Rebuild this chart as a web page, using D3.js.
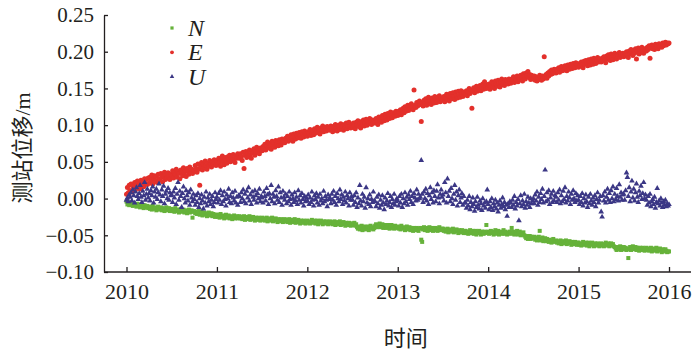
<!DOCTYPE html>
<html>
<head>
<meta charset="utf-8">
<title>测站位移</title>
<script src="https://cdnjs.cloudflare.com/ajax/libs/d3/7.8.5/d3.min.js"></script>
<style>
    body { margin: 0; background: #fff; }
    .axis path, .axis line { stroke: #231f20; stroke-width: 1.3; }
</style>
</head>
<body>
<svg class="chart"></svg>
<script>
// sampling runs from the start to the end year, evenly spaced
var startYear = 2010, endYear = 2016;
var yearTicks = [2010, 2011, 2012, 2013, 2014, 2015, 2016];
var dispTicks = [-0.10, -0.05, 0.00, 0.05, 0.10, 0.15, 0.20, 0.25];
var seriesNames = ["N", "E", "U"];

// displacements in mm, one row per quarter year
var nValues = [
    -4,-8,-6,-9,-5,-8,-7,-10,-6,-9,-8,-11,-7,-10,-9,-12,-8,-11,-10,-13,-9,-12,-11,-10,-13,
    -11,-14,-12,-15,-10,-13,-14,-12,-16,-13,-11,-15,-14,-12,-16,-13,-15,-17,-14,-12,-16,-15,-13,-17,-15,
    -14,-17,-15,-18,-13,-16,-17,-15,-19,-16,-14,-18,-17,-15,-19,-16,-18,-20,-17,-15,-19,-18,-16,-26,-18,
    -17,-20,-18,-21,-19,-17,-22,-20,-18,-23,-21,-19,-22,-20,-24,-21,-19,-23,-22,-20,-24,-21,-23,-25,-22,
    -22,-25,-23,-26,-21,-24,-25,-23,-27,-24,-22,-26,-25,-23,-27,-24,-26,-28,-25,-23,-27,-26,-24,-27,-25,
    -24,-27,-25,-28,-26,-24,-29,-26,-25,-28,-27,-24,-29,-26,-28,-25,-27,-30,-26,-28,-29,-26,-28,-30,-27,
    -26,-29,-27,-30,-28,-26,-31,-28,-27,-30,-29,-26,-31,-28,-30,-27,-29,-32,-28,-30,-31,-28,-30,-32,-29,
    -28,-31,-29,-32,-30,-28,-33,-30,-29,-32,-31,-28,-33,-30,-32,-29,-31,-34,-30,-32,-33,-30,-32,-34,-31,
    -30,-33,-31,-34,-32,-29,-33,-31,-30,-34,-32,-30,-35,-31,-33,-30,-32,-35,-31,-33,-34,-31,-33,-35,-32,
    -31,-34,-32,-35,-33,-31,-36,-33,-32,-35,-34,-31,-36,-33,-35,-32,-34,-37,-33,-35,-36,-33,-35,-37,-34,
    -34,-36,-33,-37,-35,-39,-41,-38,-42,-40,-37,-43,-40,-38,-42,-39,-41,-38,-43,-40,-37,-41,-39,-42,-40,
    -37,-35,-39,-36,-38,-34,-39,-37,-35,-40,-38,-36,-40,-37,-39,-36,-41,-38,-36,-40,-38,-41,-37,-39,-40,
    -38,-41,-39,-42,-37,-40,-41,-39,-43,-40,-38,-42,-41,-39,-43,-40,-42,-44,-40,-42,-43,-40,-42,-44,-41,
    -40,-56,-59,-42,-39,-43,-41,-40,-44,-41,-39,-43,-42,-40,-44,-41,-43,-40,-42,-44,-41,-39,-43,-42,-41,
    -41,-44,-42,-45,-43,-41,-46,-43,-42,-45,-44,-41,-46,-43,-45,-42,-44,-47,-43,-45,-46,-43,-45,-47,-44,
    -44,-47,-45,-48,-46,-43,-47,-45,-44,-48,-46,-44,-49,-45,-47,-44,-46,-49,-45,-47,-48,-45,-47,-36,-46,
    -45,-48,-46,-44,-47,-45,-49,-46,-43,-48,-46,-44,-49,-47,-45,-48,-46,-43,-48,-45,-47,-49,-46,-48,-45,
    -46,-40,-48,-45,-49,-46,-48,-44,-49,-47,-45,-50,-47,-49,-46,-50,-52,-54,-51,-55,-53,-51,-55,-52,-54,
    -54,-52,-56,-53,-57,-54,-52,-44,-57,-55,-53,-58,-56,-54,-58,-55,-57,-59,-56,-58,-60,-57,-55,-59,-58,
    -57,-60,-58,-61,-59,-57,-62,-59,-58,-61,-60,-57,-62,-59,-61,-58,-60,-63,-59,-61,-62,-59,-61,-63,-60,
    -60,-63,-61,-64,-62,-59,-63,-61,-60,-64,-62,-60,-65,-61,-63,-60,-62,-65,-61,-63,-64,-61,-63,-65,-62,
    -61,-64,-62,-65,-63,-60,-64,-62,-61,-65,-63,-61,-64,-62,-65,-66,-68,-70,-66,-69,-67,-65,-70,-67,-69,
    -66,-69,-67,-70,-68,-81,-69,-66,-70,-67,-65,-69,-68,-66,-70,-67,-69,-71,-67,-69,-70,-67,-69,-71,-68,
    -67,-70,-68,-71,-69,-67,-72,-69,-68,-71,-70,-67,-72,-69,-71,-68,-70,-73,-69,-71,-72,-69,-71,-73,-72,
    -72
];

var eValues = [
    6,15,8,18,11,20,9,17,14,22,12,19,24,15,21,13,25,18,23,16,27,20,26,19,28,
    21,29,25,32,20,27,31,24,30,22,33,27,25,34,29,23,31,36,26,32,28,35,30,26,33,
    31,38,28,35,33,40,29,37,34,27,39,36,31,42,35,38,30,41,37,33,43,36,40,34,39,
    38,45,41,36,47,40,18,44,49,39,46,42,51,45,40,48,44,52,47,43,50,46,53,48,45,
    52,47,55,49,44,53,58,50,46,56,51,48,57,53,59,50,55,52,60,54,49,58,55,61,56,
    55,61,57,52,63,41,59,64,56,61,58,66,60,55,65,62,68,59,64,70,63,67,61,69,66,
    65,71,68,74,66,72,77,69,75,71,67,78,73,76,70,79,74,77,72,80,76,73,81,77,79,
    76,82,79,85,78,83,80,87,82,78,88,84,81,89,85,83,90,86,82,91,87,84,92,88,86,
    85,91,88,94,86,90,93,87,95,89,92,97,90,94,88,96,93,99,91,95,97,92,98,94,96,
    93,99,95,91,98,94,101,96,92,100,97,94,102,96,99,93,101,97,103,95,99,104,98,96,100,
    97,103,99,95,104,100,106,98,102,96,105,101,107,99,103,108,100,105,102,109,104,101,107,103,106,
    103,109,105,101,111,106,108,104,113,109,106,115,110,107,116,112,109,118,113,110,117,114,112,119,115,
    113,119,116,121,114,120,123,117,125,119,122,127,120,126,123,129,124,121,148,127,124,131,126,129,133,
    128,105,131,126,134,129,136,127,132,138,130,134,128,137,133,130,139,135,131,138,134,140,132,137,135,
    134,139,132,137,142,135,140,133,143,138,136,144,139,135,145,140,137,146,141,138,147,142,139,145,143,
    142,147,140,145,150,143,148,123,146,151,144,149,153,146,151,148,154,147,152,156,149,159,153,150,155,
    151,156,149,154,159,152,157,150,160,155,153,161,156,152,159,163,155,158,154,162,157,160,156,163,159,
    157,163,160,166,158,164,161,167,159,165,162,168,164,160,170,166,163,171,167,173,165,169,162,168,164,
    163,167,161,166,160,164,162,168,165,161,167,163,193,166,169,164,171,167,173,169,175,170,172,176,174,
    171,176,173,178,172,177,180,174,179,175,181,177,174,182,178,176,183,179,177,184,180,178,185,181,183,
    179,184,181,186,182,178,187,183,188,184,181,189,185,182,190,186,183,191,187,184,189,192,186,190,188,
    186,191,188,193,189,185,194,190,196,191,188,197,192,189,195,198,193,190,196,194,199,192,197,195,198,
    193,198,195,200,196,192,201,197,203,199,195,202,198,204,190,200,205,197,203,199,206,201,198,204,202,
    201,206,203,208,191,205,209,204,207,203,210,206,208,204,211,207,209,206,212,208,210,213,209,212,211,
    212
];

var uValues = [
    -2,1,-4,5,2,8,-3,12,4,-6,9,15,3,-1,7,18,2,-5,10,4,22,-2,6,13,1,
    7,-3,11,4,16,-6,9,2,13,-1,8,20,5,-4,12,3,17,-7,6,10,0,14,-2,8,4,
    5,-5,9,1,14,-8,6,22,-2,10,3,-12,7,16,0,-6,11,4,-3,8,-9,12,1,-4,6,
    -1,-9,4,-5,7,-12,0,-7,5,-3,-14,2,-6,9,-10,1,-4,6,-8,-2,3,-11,-5,8,-1,
    2,-6,7,-2,11,-8,4,-4,9,-1,-10,5,0,13,-5,3,-7,8,1,-3,10,-6,2,-9,4,
    3,-5,8,0,12,-4,6,-7,10,1,15,-3,5,-8,9,2,-2,11,4,-6,7,0,13,-4,3,
    1,-6,9,3,-3,14,5,-8,7,0,18,-4,6,2,-7,11,3,-2,16,-5,8,1,-9,10,2,
    -2,6,-7,3,-4,9,-1,-9,5,0,-5,8,-3,2,-8,11,-2,4,-6,7,-1,-10,3,-4,1,
    -3,5,-8,1,-5,9,-2,-10,4,-1,7,-6,2,-9,6,-3,0,-7,10,-4,3,-2,-11,5,-1,
    1,-7,6,-2,10,-5,3,-9,7,0,-4,12,-1,5,-8,2,-3,9,-6,4,0,-10,8,-2,3,
    -2,-9,4,-5,8,-12,1,-7,18,-3,-10,6,-4,2,-13,15,-6,0,-8,5,-11,-1,-5,9,-3,
    -4,-11,2,-7,5,-13,-2,-9,4,-6,-15,1,-8,-3,7,-10,-5,3,-12,-1,-7,6,-9,-4,0,
    -3,-10,3,-6,6,-12,0,-7,8,-4,2,-9,5,-1,10,-5,3,-8,7,1,-3,12,-2,6,0,
    2,52,6,-5,9,0,13,-3,7,-8,4,15,-1,8,-6,11,3,-4,10,19,1,-7,6,12,2,
    5,-3,22,8,-6,27,3,10,-4,14,0,-8,6,18,-2,9,-10,4,12,-5,1,7,-9,3,-6,
    -6,-13,-2,-10,3,-15,-5,-11,1,-8,-17,-4,-12,2,-9,-14,-3,-7,-16,0,-10,-6,-13,-4,12,
    -8,-15,-4,-12,0,-16,-7,-11,-2,-14,-6,-18,-9,-3,-13,-8,1,-11,-5,-15,-9,-24,-7,-12,-4,
    -6,-12,-2,-9,3,-14,-5,-10,-1,-30,-7,4,-11,-3,-8,6,-13,-4,-9,2,-6,-12,0,-7,-3,
    0,-7,5,-3,9,-9,2,-5,7,-1,13,-6,3,39,-4,8,-2,11,-8,1,6,-5,10,-3,4,
    2,-5,8,-2,12,-7,4,-4,10,-1,15,-6,3,-3,9,1,-8,6,-2,11,0,-5,7,-3,4,
    -2,-8,3,-5,7,-10,0,-6,5,-4,-12,2,-7,6,-3,-9,1,-5,4,-11,-1,8,-6,-2,3,
    -18,-25,4,-3,9,-6,2,13,-2,7,-5,11,0,16,-4,6,-1,14,3,-3,19,2,8,-2,5,
    6,-2,11,35,29,3,15,-4,9,24,1,13,-3,8,20,2,-5,10,4,17,-1,7,22,0,5,
    -2,-9,3,-6,6,-11,-4,-1,-8,2,-13,-5,14,-7,-3,-10,0,-6,-12,-4,-9,-2,-11,-7,-10,
    -8
];

var colors = { N: "#66b23a", E: "#e3302b", U: "#3b3785" };
var serif = "'Liberation Serif', 'Times New Roman', serif";

var svgWidth = 700, svgHeight = 358;
var margin = { top: 15, right: 7, bottom: 86, left: 104 };
var height = svgHeight - margin.top - margin.bottom;
var width = svgWidth - margin.left - margin.right;

var svg = d3.select(".chart")
    .attr("width", svgWidth)
    .attr("height", svgHeight);

var chart = svg.append("g")
    .attr("transform", "translate(" + margin.left + "," + margin.top + ")");

// the year range sits inside the axis with some room on both ends
var xScale = d3.scaleLinear().domain([startYear, endYear]).range([22.5, 565]);
var yScale = d3.scaleLinear().domain([-0.10, 0.25]).range([height, 0]);

function toPoints(values) {
    var step = (endYear - startYear) / (values.length - 1);
    return values.map(function (v, i) {
        return { t: startYear + i * step, v: v / 1000 };
    });
}

var nData = toPoints(nValues),
    eData = toPoints(eValues),
    uData = toPoints(uValues);

// N squares
chart.append("g").selectAll("rect")
    .data(nData).enter().append("rect")
    .attr("x", function (d) { return xScale(d.t) - 2; })
    .attr("y", function (d) { return yScale(d.v) - 2; })
    .attr("width", 4)
    .attr("height", 4)
    .attr("fill", colors.N);

// E dots
chart.append("g").selectAll("circle")
    .data(eData).enter().append("circle")
    .attr("cx", function (d) { return xScale(d.t); })
    .attr("cy", function (d) { return yScale(d.v); })
    .attr("r", 2.5)
    .attr("fill", colors.E);

// U triangles
var tri = d3.symbol().type(d3.symbolTriangle).size(14);
chart.append("g").selectAll("path")
    .data(uData).enter().append("path")
    .attr("d", tri)
    .attr("transform", function (d) {
        return "translate(" + xScale(d.t) + "," + yScale(d.v) + ")";
    })
    .attr("fill", colors.U);

// axes
var xAxis = d3.axisBottom(xScale).tickValues(yearTicks)
    .tickFormat(d3.format("d"))
    .tickSizeInner(-5).tickSizeOuter(0).tickPadding(11);
var yAxis = d3.axisLeft(yScale).tickValues(dispTicks)
    .tickFormat(d3.format(".2f"))
    .tickSizeInner(-4).tickSizeOuter(0).tickPadding(10);

var gx = chart.append("g")
    .attr("class", "x axis")
    .attr("transform", "translate(0," + height + ")")
    .call(xAxis);
gx.select(".domain").remove();
gx.append("line")
    .attr("x1", 0).attr("x2", width - 2)
    .attr("y1", 0).attr("y2", 0);
gx.selectAll("text")
    .style("font-family", serif)
    .style("font-size", "22px")
    .attr("fill", "#231f20");

var gy = chart.append("g")
    .attr("class", "y axis")
    .call(yAxis);
gy.selectAll("text")
    .style("font-family", serif)
    .style("font-size", "21px")
    .attr("fill", "#231f20");

// axis titles
chart.append("text")
    .attr("x", xScale(2013) + 8)
    .attr("y", height + 74)
    .attr("text-anchor", "middle")
    .attr("fill", "#231f20")
    .style("font-size", "22px")
    .style("font-family", "'Noto Sans CJK SC', sans-serif")
    .text("时间");

svg.append("text")
    .attr("transform", "translate(30,148) rotate(-90)")
    .attr("text-anchor", "middle")
    .attr("fill", "#231f20")
    .style("font-size", "22px")
    .style("font-family", "'Liberation Serif', 'Noto Sans CJK SC', serif")
    .text("测站位移/m");

// legend
var legend = chart.append("g").attr("transform", "translate(68,13)");
seriesNames.forEach(function (name, i) {
    var row = legend.append("g").attr("transform", "translate(0," + (i * 24.3) + ")");
    if (name === "N") {
        row.append("rect").attr("x", -1.6).attr("y", -1.6)
            .attr("width", 3.2).attr("height", 3.2).attr("fill", colors[name]);
    } else if (name === "E") {
        row.append("circle").attr("r", 1.9).attr("fill", colors[name]);
    } else {
        row.append("path").attr("d", d3.symbol().type(d3.symbolTriangle).size(9)())
            .attr("fill", colors[name]);
    }
    row.append("text")
        .attr("x", 16)
        .attr("y", 8)
        .attr("fill", "#231f20")
        .style("font-family", serif)
        .style("font-size", "24px")
        .style("font-style", "italic")
        .text(name);
});
</script>
</body>
</html>
